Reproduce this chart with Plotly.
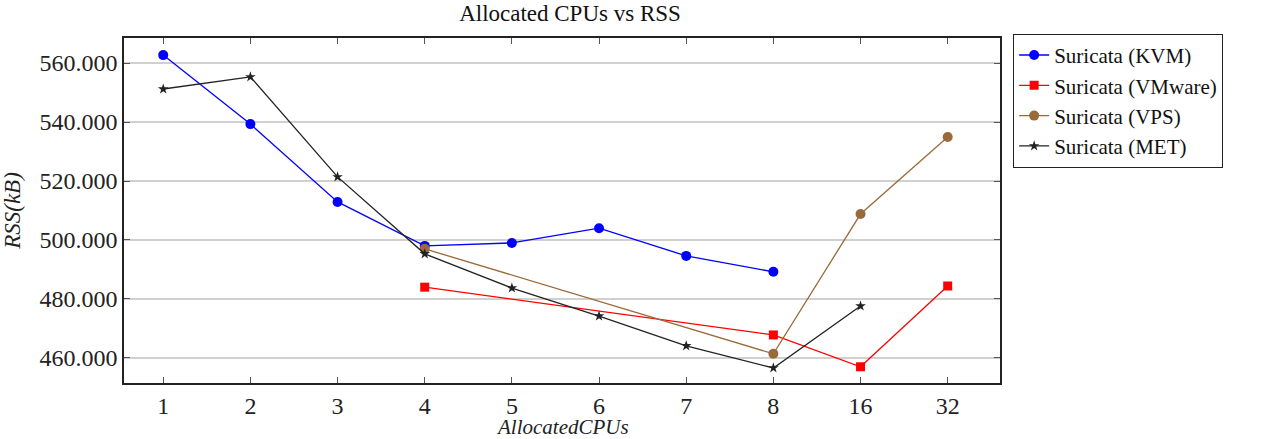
import plotly.graph_objects as go

categories = ["1", "2", "3", "4", "5", "6", "7", "8", "16", "32"]

kvm_x = ["1", "2", "3", "4", "5", "6", "7", "8"]
kvm_y = [562700, 539300, 512900, 498000, 499000, 504000, 494600, 489200]

vmware_x = ["4", "8", "16", "32"]
vmware_y = [484000, 467800, 457000, 484400]

vps_x = ["4", "8", "16", "32"]
vps_y = [497000, 461400, 508800, 534900]

met_x = ["1", "2", "3", "4", "5", "6", "7", "8", "16"]
met_y = [551200, 555300, 521400, 495300, 483700, 474200, 464100, 456600, 477600]

y_ticks = [460000, 480000, 500000, 520000, 540000, 560000]

FONT = "Liberation Serif"

fig = go.Figure()
fig.add_trace(go.Scatter(x=kvm_x, y=kvm_y, name="Suricata (KVM)", mode="lines+markers",
                         line=dict(color="#0000ff", width=1.3),
                         marker=dict(symbol="circle", size=10, color="#0000ff")))
fig.add_trace(go.Scatter(x=vmware_x, y=vmware_y, name="Suricata (VMware)", mode="lines+markers",
                         line=dict(color="#ff0000", width=1.3),
                         marker=dict(symbol="square", size=9, color="#ff0000")))
fig.add_trace(go.Scatter(x=vps_x, y=vps_y, name="Suricata (VPS)", mode="lines+markers",
                         line=dict(color="#9a6a3a", width=1.3),
                         marker=dict(symbol="circle", size=10, color="#9a6a3a")))
fig.add_trace(go.Scatter(x=met_x, y=met_y, name="Suricata (MET)", mode="lines+markers",
                         line=dict(color="#222222", width=1.3),
                         marker=dict(symbol="star", size=8, color="#222222")))

fig.update_layout(
    width=1264, height=439,
    margin=dict(l=124, r=264, t=38, b=56),
    paper_bgcolor="white", plot_bgcolor="white",
    separators=",.",
    font=dict(family=FONT, size=22, color="#222222"),
    title=dict(text="Allocated CPUs vs RSS", x=570 / 1264, xanchor="center",
               y=1 - 13 / 439, yanchor="middle", font=dict(family=FONT, size=23, color="#111111")),
    legend=dict(x=1.015, y=1.012, xanchor="left", yanchor="top",
                bordercolor="#222222", borderwidth=1, bgcolor="white",
                font=dict(family=FONT, size=21, color="#111111"),
                tracegroupgap=0, itemwidth=30),
)
fig.add_annotation(text="<i>AllocatedCPUs</i>", xref="paper", yref="paper",
                   x=0.5, y=-0.128, xanchor="center", yanchor="middle", showarrow=False,
                   font=dict(family=FONT, size=21, color="#222222"))
fig.update_xaxes(
    type="category", categoryorder="array", categoryarray=categories,
    range=[-0.45, 9.6], automargin=False,
    showline=True, linecolor="#222222", linewidth=1.5, mirror="ticks",
    ticks="inside", ticklen=6, tickcolor="#555555",
    showgrid=False, zeroline=False,
    tickfont=dict(family=FONT, size=24, color="#222222"),
)
fig.update_yaxes(
    range=[451500, 568500], automargin=False,
    tickvals=y_ticks, tickformat=",d",
    showline=True, linecolor="#222222", linewidth=1.5, mirror="ticks",
    ticks="inside", ticklen=6, tickcolor="#555555",
    showgrid=True, gridcolor="#d0d0d0", gridwidth=1.5, zeroline=False,
    title=dict(text="<i>RSS(kB)</i>", standoff=14, font=dict(family=FONT, size=23)),
    tickfont=dict(family=FONT, size=24, color="#222222"),
)

fig.write_html("out.html")
